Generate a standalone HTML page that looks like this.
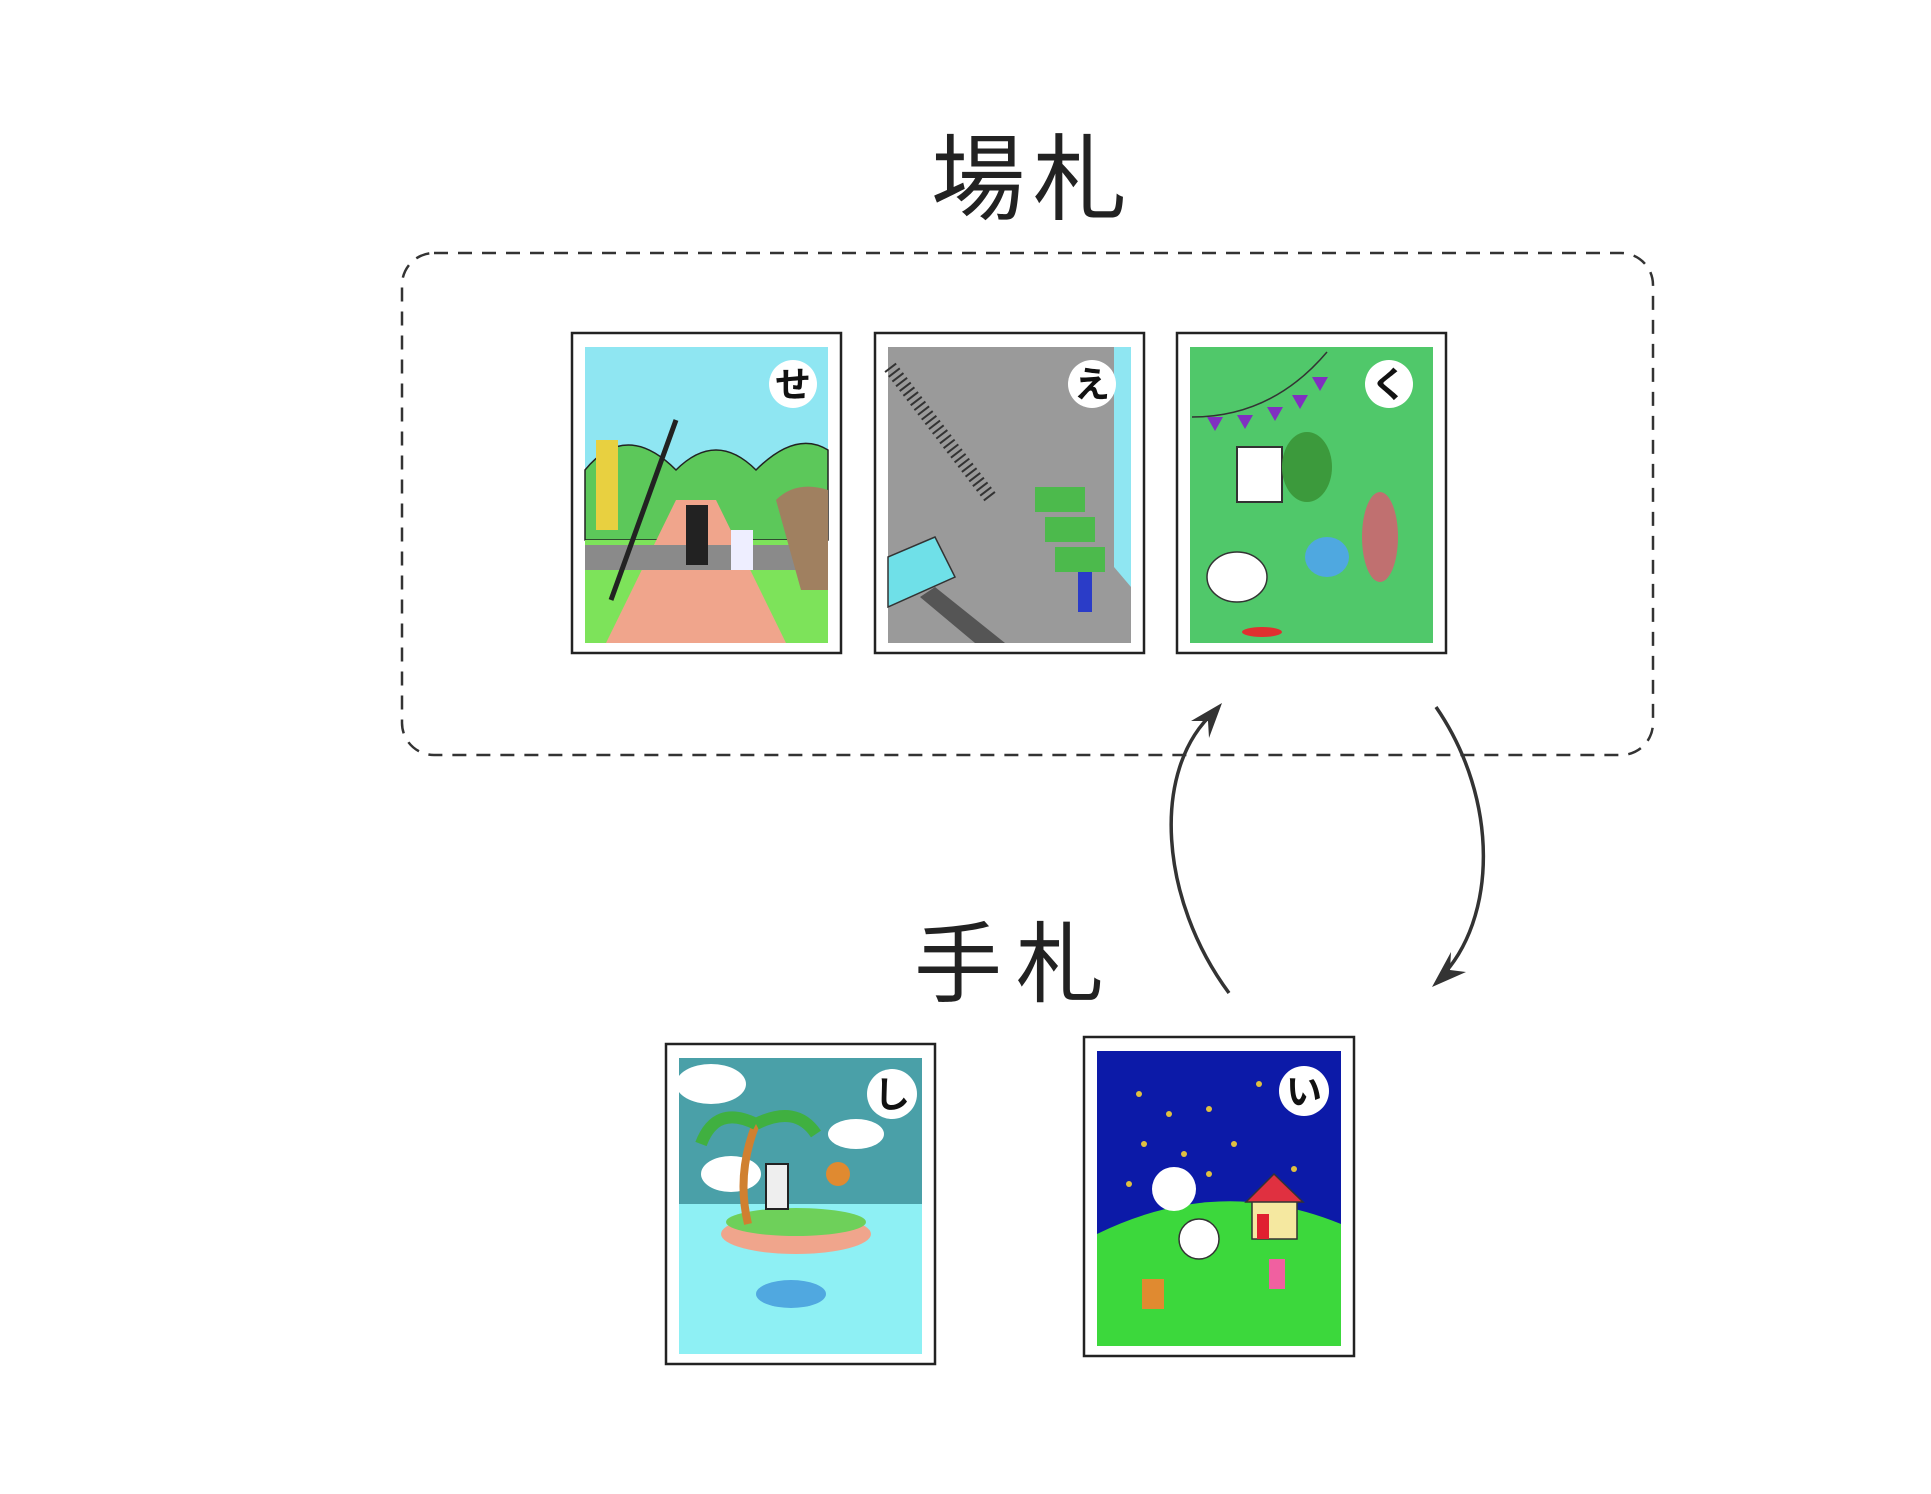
<!DOCTYPE html>
<html><head><meta charset="utf-8"><style>
html,body{margin:0;padding:0;background:#fff;}
svg{display:block}
text{font-family:"Liberation Sans","Noto Sans CJK JP",sans-serif;}
</style></head><body>
<svg width="1931" height="1494" viewBox="0 0 1931 1494" xmlns="http://www.w3.org/2000/svg">
<text x="978" y="212" font-size="94" text-anchor="middle" fill="#222">場</text>
<text x="1080" y="212" font-size="94" text-anchor="middle" fill="#222">札</text>
<text x="958" y="995" font-size="88" text-anchor="middle" fill="#222">手</text>
<text x="1060" y="995" font-size="88" text-anchor="middle" fill="#222">札</text>
<rect x="402" y="253" width="1251" height="502" rx="32" fill="none" stroke="#333" stroke-width="2.5" stroke-dasharray="14 10"/>

<!-- card 1 せ -->
<g>
<rect x="572" y="333" width="269" height="320" fill="#fff" stroke="#222" stroke-width="2.5"/>
<rect x="585" y="347" width="243" height="296" fill="#8fe6f2"/>
<path d="M585 470 Q626 420 676 470 Q716 430 756 470 Q796 430 828 450 L828 540 L585 540Z" fill="#5cc85a" stroke="#222" stroke-width="1.5"/>
<rect x="585" y="540" width="243" height="103" fill="#7de35a"/>
<path d="M676 500 L716 500 L786 643 L606 643Z" fill="#f0a58c"/>
<rect x="585" y="545" width="243" height="25" fill="#8a8a8a"/>
<rect x="596" y="440" width="22" height="90" fill="#e8d040"/>
<line x1="611" y1="600" x2="676" y2="420" stroke="#222" stroke-width="5"/>
<path d="M776 500 Q796 480 828 490 L828 590 L801 590Z" fill="#a08060"/>
<rect x="686" y="505" width="22" height="60" fill="#222"/>
<rect x="731" y="530" width="22" height="40" fill="#eef"/>
<circle cx="793" cy="384" r="24" fill="#fff"/>
<text x="793" y="397" font-size="36" font-weight="bold" text-anchor="middle" fill="#111">せ</text>
</g>
<!-- card 2 え -->
<g>
<rect x="875" y="333" width="269" height="320" fill="#fff" stroke="#222" stroke-width="2.5"/>
<rect x="888" y="347" width="243" height="296" fill="#9a9a9a"/>
<path d="M1114 347 L1131 347 L1131 587 L1114 567Z" fill="#8fe6f2"/>
<path d="M890 367 L990 497" stroke="#333" stroke-width="14" stroke-dasharray="2 4"/>
<path d="M888 557 L935 537 L955 577 L888 607Z" fill="#6fe0e8" stroke="#333" stroke-width="1.5"/>
<path d="M935 587 L1005 643 L975 643 L920 597Z" fill="#555"/>
<rect x="1035" y="487" width="50" height="25" fill="#4cba4c"/>
<rect x="1045" y="517" width="50" height="25" fill="#4cba4c"/>
<rect x="1055" y="547" width="50" height="25" fill="#4cba4c"/>
<rect x="1078" y="572" width="14" height="40" fill="#2a3cc8"/>
<circle cx="1092" cy="384" r="24" fill="#fff"/>
<text x="1092" y="397" font-size="36" font-weight="bold" text-anchor="middle" fill="#111">え</text>
</g>
<!-- card 3 く -->
<g>
<rect x="1177" y="333" width="269" height="320" fill="#fff" stroke="#222" stroke-width="2.5"/>
<rect x="1190" y="347" width="243" height="296" fill="#50c86a"/>
<path d="M1192 417 Q1272 417 1327 352" fill="none" stroke="#333" stroke-width="1.5"/>
<path d="M1207 417 l8 14 l8 -14Z M1237 415 l8 14 l8 -14Z M1267 407 l8 14 l8 -14Z M1292 395 l8 14 l8 -14Z M1312 377 l8 14 l8 -14Z" fill="#8030c0"/>
<rect x="1237" y="447" width="45" height="55" fill="#fff" stroke="#333" stroke-width="2"/>
<ellipse cx="1307" cy="467" rx="25" ry="35" fill="#3c9a3c"/>
<ellipse cx="1237" cy="577" rx="30" ry="25" fill="#fff" stroke="#333" stroke-width="1.5"/>
<ellipse cx="1262" cy="632" rx="20" ry="5" fill="#e03030"/>
<ellipse cx="1327" cy="557" rx="22" ry="20" fill="#4fa8e0"/>
<ellipse cx="1380" cy="537" rx="18" ry="45" fill="#c07070"/>
<circle cx="1389" cy="384" r="24" fill="#fff"/>
<text x="1389" y="397" font-size="36" font-weight="bold" text-anchor="middle" fill="#111">く</text>
</g>
<!-- card 4 し -->
<g>
<rect x="666" y="1044" width="269" height="320" fill="#fff" stroke="#222" stroke-width="2.5"/>
<rect x="679" y="1058" width="243" height="296" fill="#4aa0a8"/>
<rect x="679" y="1204" width="243" height="150" fill="#8ef0f4"/>
<ellipse cx="711" cy="1084" rx="35" ry="20" fill="#fff"/>
<ellipse cx="731" cy="1174" rx="30" ry="18" fill="#fff"/>
<ellipse cx="856" cy="1134" rx="28" ry="15" fill="#fff"/>
<ellipse cx="796" cy="1234" rx="75" ry="20" fill="#f0a58c"/>
<ellipse cx="796" cy="1222" rx="70" ry="14" fill="#6ed05a"/>
<path d="M748 1224 Q736 1174 756 1124" stroke="#d08030" stroke-width="8" fill="none"/>
<path d="M756 1124 Q716 1104 701 1144 M756 1124 Q796 1104 816 1134" stroke="#40b040" stroke-width="12" fill="none"/>
<rect x="766" y="1164" width="22" height="45" fill="#eee" stroke="#222" stroke-width="2"/>
<circle cx="838" cy="1174" r="12" fill="#e08a30"/>
<ellipse cx="791" cy="1294" rx="35" ry="14" fill="#50a8e0"/>
<circle cx="892" cy="1094" r="25" fill="#fff"/>
<text x="892" y="1107" font-size="36" font-weight="bold" text-anchor="middle" fill="#111">し</text>
</g>
<!-- card 5 い -->
<g>
<rect x="1084" y="1037" width="270" height="319" fill="#fff" stroke="#222" stroke-width="2.5"/>
<rect x="1097" y="1051" width="244" height="295" fill="#0c1aa8"/>
<path d="M1097 1234 Q1219 1174 1341 1224 L1341 1346 L1097 1346Z" fill="#3cd83c"/>
<g fill="#e0c040"><circle cx="1139" cy="1094" r="3"/><circle cx="1169" cy="1114" r="3"/><circle cx="1209" cy="1109" r="3"/><circle cx="1259" cy="1084" r="3"/><circle cx="1144" cy="1144" r="3"/><circle cx="1184" cy="1154" r="3"/><circle cx="1234" cy="1144" r="3"/><circle cx="1294" cy="1169" r="3"/><circle cx="1129" cy="1184" r="3"/><circle cx="1209" cy="1174" r="3"/></g>
<circle cx="1174" cy="1189" r="22" fill="#fff"/>
<rect x="1252" y="1199" width="45" height="40" fill="#f5e8a0" stroke="#333" stroke-width="1.5"/>
<path d="M1246 1202 L1274 1174 L1303 1202Z" fill="#e03040" stroke="#333" stroke-width="1.5"/>
<rect x="1257" y="1214" width="12" height="25" fill="#e02030"/>
<ellipse cx="1199" cy="1239" rx="20" ry="20" fill="#fff" stroke="#333" stroke-width="1.5"/>
<rect x="1142" y="1279" width="22" height="30" fill="#e08a30"/>
<rect x="1269" y="1259" width="16" height="30" fill="#f060a0"/>
<circle cx="1304" cy="1091" r="25" fill="#fff"/>
<text x="1304" y="1104" font-size="36" font-weight="bold" text-anchor="middle" fill="#111">い</text>
</g>

<!-- arrows -->
<path d="M1229 993 C1160 900 1150 770 1214 712" fill="none" stroke="#333" stroke-width="3.5"/>
<path d="M1222 703 L1191 721 L1208 721 L1209 738Z" fill="#333"/>
<path d="M1436 707 C1500 800 1497 920 1440 978" fill="none" stroke="#333" stroke-width="3.5"/>
<path d="M1432 987 L1466 972 L1450 970 L1451 952Z" fill="#333"/>
</svg>
</body></html>
